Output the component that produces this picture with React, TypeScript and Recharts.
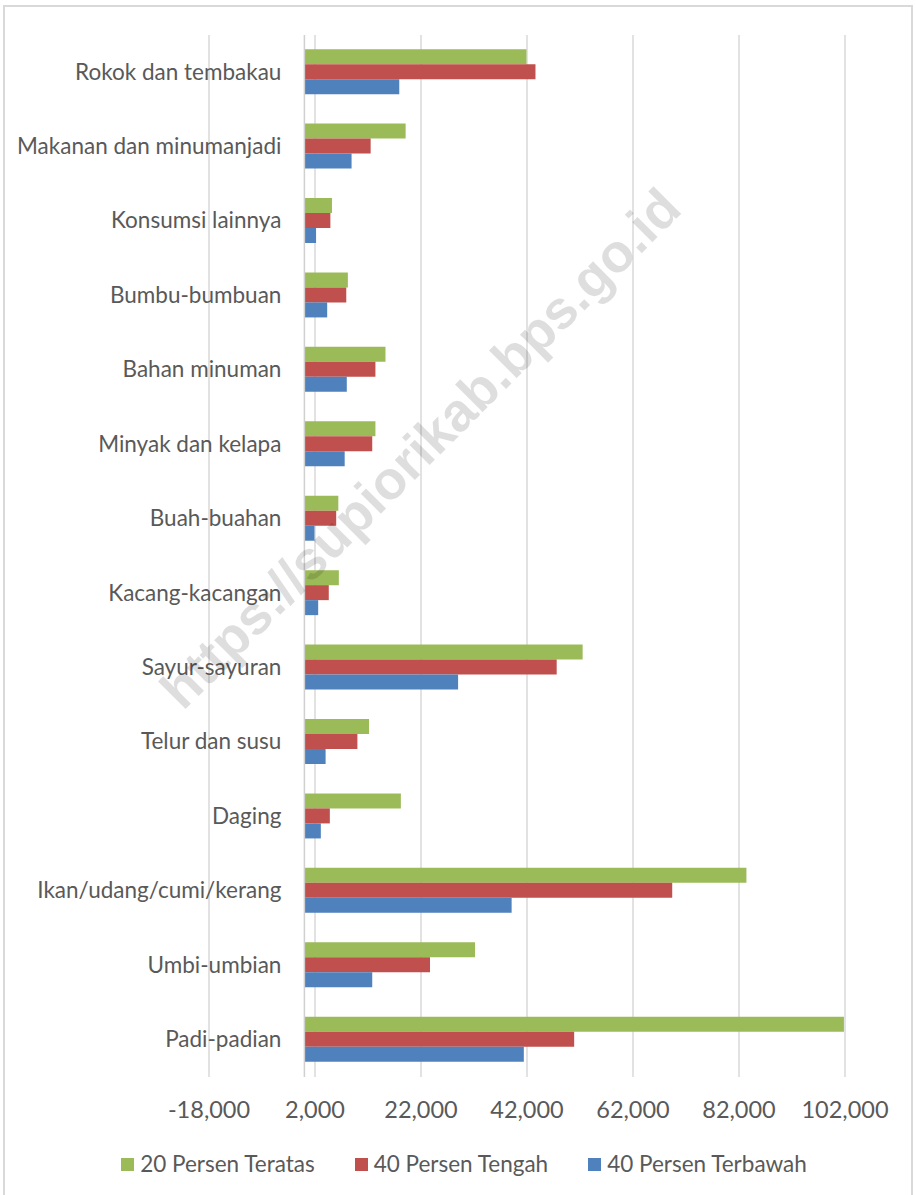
import { BarChart, Bar, XAxis, YAxis, CartesianGrid, Legend, ReferenceLine, LabelList } from 'recharts'

// Komoditas, urut dari atas ke bawah
const categories = [
  'Rokok dan tembakau',
  'Makanan dan minumanjadi',
  'Konsumsi lainnya',
  'Bumbu-bumbuan',
  'Bahan minuman',
  'Minyak dan kelapa',
  'Buah-buahan',
  'Kacang-kacangan',
  'Sayur-sayuran',
  'Telur dan susu',
  'Daging',
  'Ikan/udang/cumi/kerang',
  'Umbi-umbian',
  'Padi-padian',
]

const teratas20 = [41900, 19100, 5200, 8200, 15300, 13400, 6400, 6500, 52500, 12200, 18200, 83400, 32200, 101800]
const tengah40 = [43600, 12500, 4900, 7900, 13400, 12800, 6000, 4600, 47600, 10000, 4800, 69400, 23700, 50900]
const terbawah40 = [17900, 8900, 2200, 4300, 8000, 7600, 1900, 2600, 29000, 4000, 3100, 39100, 12800, 41400]

const xTicks = [-18000, 2000, 22000, 42000, 62000, 82000, 102000]

const series = [
  { key: 'teratas', name: '20 Persen Teratas', color: '#9BBB59' },
  { key: 'tengah', name: '40 Persen Tengah', color: '#C0504D' },
  { key: 'terbawah', name: '40 Persen Terbawah', color: '#4F81BD' },
]

const data = categories.map((name, i) => ({
  name,
  teratas: teratas20[i],
  tengah: tengah40[i],
  terbawah: terbawah40[i],
}))

const FONT = 'Lato, Carlito, Calibri, sans-serif'
const TEXT = '#595959'

function LegendContent() {
  return (
    <div style={{ display: 'flex', justifyContent: 'center', gap: '40px', height: '30px', alignItems: 'center', paddingLeft: '12px' }}>
      {series.map(s => (
        <div key={s.key} style={{ display: 'flex', alignItems: 'center', gap: '6px' }}>
          <span style={{ width: '13px', height: '13px', background: s.color, display: 'inline-block' }} />
          <span style={{ color: TEXT, fontFamily: FONT, fontSize: '22.5px', lineHeight: '30px' }}>{s.name}</span>
        </div>
      ))}
    </div>
  )
}

export default function App() {
  return (
    <div style={{ position: 'absolute', left: 0, top: 0, width: 916, height: 1195, background: '#ffffff', overflow: 'hidden' }}>
      <div style={{ position: 'absolute', left: 3, top: 5, width: 910, height: 1205, border: '2px solid #d9d9d9', boxSizing: 'border-box' }} />
      <BarChart
        width={916}
        height={1195}
        layout="vertical"
        data={data}
        margin={{ top: 35, right: 71, left: 209, bottom: 16 }}
        barCategoryGap="19%"
        barGap={0}
      >
        <CartesianGrid horizontal={false} stroke="#d9d9d9" strokeWidth={1.5} />
        <XAxis
          type="number"
          domain={[-18000, 102000]}
          ticks={xTicks}
          interval={0}
          tickFormatter={(v: number) => v.toLocaleString('en-US')}
          axisLine={false}
          tickLine={false}
          tickSize={0}
          tickMargin={24}
          height={72}
          tick={{ fill: TEXT, fontFamily: FONT, fontSize: 23.5 }}
        />
        <YAxis type="category" dataKey="name" hide />
        <ReferenceLine x={0} stroke="#d0d0d0" strokeWidth={1.5} />
        {series.map(s => (
          <Bar key={s.key} dataKey={s.key} name={s.name} fill={s.color} isAnimationActive={false}>
            {s.key === 'tengah' && (
              <LabelList dataKey="name" position="left" offset={23} fill={TEXT} fontFamily={FONT} fontSize={22.5} />
            )}
          </Bar>
        ))}
        <Legend verticalAlign="bottom" wrapperStyle={{ left: 0, width: 916 }} content={() => <LegendContent />} />
      </BarChart>
      {/* watermark */}
      <div
        style={{
          position: 'absolute',
          left: 420,
          top: 448,
          transform: 'translate(-50%, -50%) rotate(-45deg)',
          fontFamily: '"Liberation Sans", Arial, sans-serif',
          fontWeight: 700,
          fontSize: 54,
          color: 'rgba(0, 0, 0, 0.13)',
          whiteSpace: 'nowrap',
          pointerEvents: 'none',
        }}
      >
        https://supiorikab.bps.go.id
      </div>
    </div>
  )
}
